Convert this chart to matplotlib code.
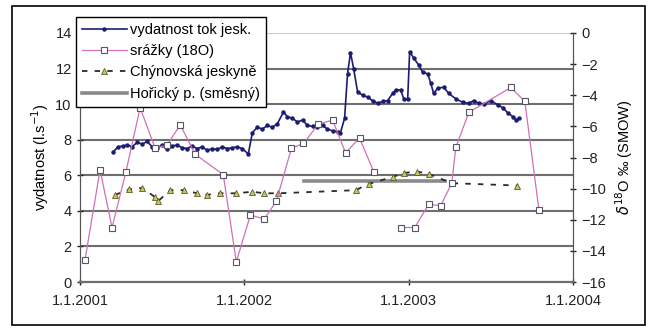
import numpy as np
import matplotlib
matplotlib.use("Agg")
import matplotlib.pyplot as plt
from matplotlib.patches import Rectangle

plt.rcParams['font.family'] = ['Liberation Sans', 'DejaVu Sans']

# ---- data (x in decimal years) ----
vyd_t = [2001.201, 2001.232, 2001.262, 2001.287, 2001.317, 2001.348, 2001.378, 2001.409,
         2001.439, 2001.470, 2001.500, 2001.530, 2001.561, 2001.591, 2001.622, 2001.652,
         2001.683, 2001.713, 2001.744, 2001.774, 2001.805, 2001.835, 2001.866, 2001.896,
         2001.927, 2001.957, 2001.988, 2002.024, 2002.049, 2002.079, 2002.110, 2002.140,
         2002.171, 2002.201, 2002.238, 2002.262, 2002.293, 2002.323, 2002.354, 2002.384,
         2002.415, 2002.445, 2002.476, 2002.506, 2002.537, 2002.567, 2002.585, 2002.610,
         2002.628, 2002.646, 2002.665, 2002.689, 2002.720, 2002.750, 2002.780, 2002.811,
         2002.841, 2002.872, 2002.902, 2002.921, 2002.951, 2002.970, 2002.994, 2003.006,
         2003.030, 2003.061, 2003.085, 2003.116, 2003.134, 2003.152, 2003.177, 2003.213,
         2003.244, 2003.287, 2003.329, 2003.366, 2003.396, 2003.427, 2003.457, 2003.500,
         2003.543, 2003.573, 2003.604, 2003.634, 2003.652, 2003.671]
vyd_v = [7.3, 7.6, 7.65, 7.7, 7.6, 7.85, 7.75, 7.9,
         7.6, 7.55, 7.7, 7.5, 7.65, 7.7, 7.55, 7.5,
         7.65, 7.5, 7.6, 7.4, 7.5, 7.45, 7.6, 7.5,
         7.55, 7.6, 7.5, 7.2, 8.4, 8.7, 8.6, 8.8,
         8.7, 8.9, 9.55, 9.3, 9.2, 9.0, 9.1, 8.8,
         8.75, 8.7, 8.8, 8.6, 8.5, 8.45, 8.4, 9.2,
         11.7, 12.9, 12.0, 10.7, 10.5, 10.4, 10.2, 10.05,
         10.15, 10.2, 10.6, 10.8, 10.8, 10.3, 10.3, 12.95,
         12.6, 12.2, 11.8, 11.7, 11.2, 10.6, 10.9, 10.95,
         10.6, 10.3, 10.1, 10.05, 10.2, 10.05, 10.0, 10.2,
         9.95, 9.8, 9.5, 9.3, 9.1, 9.2]

sraz_t = [2001.030, 2001.122, 2001.195, 2001.280, 2001.366, 2001.457, 2001.530, 2001.610,
          2001.701, 2001.872, 2001.951, 2002.037, 2002.122, 2002.195, 2002.287, 2002.360,
          2002.451, 2002.537, 2002.616, 2002.701, 2002.787, 2002.870, 2002.951, 2003.037,
          2003.122, 2003.195, 2003.262, 2003.287, 2003.366, 2003.622, 2003.707, 2003.793]
sraz_v = [-14.6, -8.8, -12.5, -8.9, -4.8, -7.4, -7.2, -5.9,
          -7.8, -9.1, -14.7, -11.7, -11.95, -10.8, -7.4, -7.1,
          -5.85, -5.6, -7.7, -6.75, -8.9, np.nan, -12.5, -12.5,
          -11.0, -11.1, -9.65, -7.35, -5.1, -3.5, -4.4, -11.4]

chyn_t = [2001.213, 2001.300, 2001.378, 2001.457, 2001.476, 2001.549, 2001.634, 2001.713,
          2001.774, 2001.854, 2001.951, 2002.049, 2002.122, 2002.207, 2002.677, 2002.756,
          2002.902, 2002.970, 2003.049, 2003.122, 2003.262, 2003.659]
chyn_v = [-10.4, -10.05, -9.95, -10.55, -10.8, -10.1, -10.1, -10.3,
          -10.4, -10.3, -10.3, -10.2, -10.3, -10.3, -10.1, -9.7,
          -9.25, -9.0, -8.9, -9.05, -9.65, -9.8]

hor_t = [2002.366, 2003.220]
hor_v = [-9.5, -9.5]

xticks = [2001, 2002, 2003, 2004]
xlabels = ['1.1.2001', '1.1.2002', '1.1.2003', '1.1.2004']
labels = ['vydatnost tok jesk.', 'srážky (18O)', 'Chýnovská jeskyně', 'Hořický p. (směsný)']

# ---- figure ----
fig = plt.figure(figsize=(6.56, 3.33), dpi=100)
fig.patches.append(Rectangle((12/656, 1-325/333), (645-12)/656, (325-6)/333,
                             transform=fig.transFigure, fill=False, ec='black', lw=1.2))
ax = fig.add_axes([80/656, 1-282/333, (573-80)/656, (282-33)/333])
ax2 = ax.twinx()

grid_c = '#6e6e6e'
ax.set_xlim(2001, 2004)
ax.set_ylim(0, 14)
ax.set_yticks(range(0, 15, 2))
for v in range(0, 14, 2):
    ax.axhline(v, color=grid_c, lw=1.5, zorder=0)
ax.axhline(14, color='#c8c8c8', lw=1.5, zorder=0)

l1, = ax.plot(vyd_t, vyd_v, color='#1c1c70', lw=1.2, marker='o', ms=2.2,
              mfc='#1c1c70', mec='#1c1c70', zorder=3)

ax2.set_ylim(-16, 0)
ax2.set_yticks(range(-16, 1, 2))
l4, = ax2.plot(hor_t, hor_v, color='#8a8a8a', lw=2.6, zorder=2)
l3, = ax2.plot(chyn_t, chyn_v, color='#2a2a2a', lw=1.3, ls=(0, (3, 4)), marker='^', ms=4,
               mfc='#c8c860', mec='#5a5a2a', mew=0.6, zorder=2)
l2, = ax2.plot(sraz_t, sraz_v, color='#d070b8', lw=0.9, marker='s', ms=4.2,
               mfc='white', mec='#555566', mew=0.8, zorder=4)

ax.set_xticks(xticks)
ax.set_xticklabels(xlabels)
for a in (ax, ax2):
    a.spines['top'].set_visible(False)
    a.spines['left'].set_color('#555555')
    a.spines['right'].set_color('#555555')
    a.spines['bottom'].set_color(grid_c)
    a.spines['bottom'].set_linewidth(1.5)
    a.tick_params(labelsize=10.5, colors='#222222', direction='inout', length=5, width=1)
ax.tick_params(axis='x', pad=6)

ax.set_ylabel('vydatnost (l.s$^{-1}$)', fontsize=10.5, labelpad=3)
ax2.set_ylabel(r'$\delta^{18}$O ‰ (SMOW)', fontsize=10.5, labelpad=5)

leg = fig.legend([l1, l2, l3, l4], labels,
                 loc='upper left', bbox_to_anchor=(76/656, 1-17/333), fontsize=10.5,
                 frameon=True, fancybox=False, edgecolor='black', framealpha=1,
                 handlelength=3.1, handletextpad=0.2, labelspacing=0.5, borderpad=0.4,
                 borderaxespad=0)
leg.get_frame().set_linewidth(1.0)
leg.set_zorder(10)

fig.savefig('out.png', dpi=100)
